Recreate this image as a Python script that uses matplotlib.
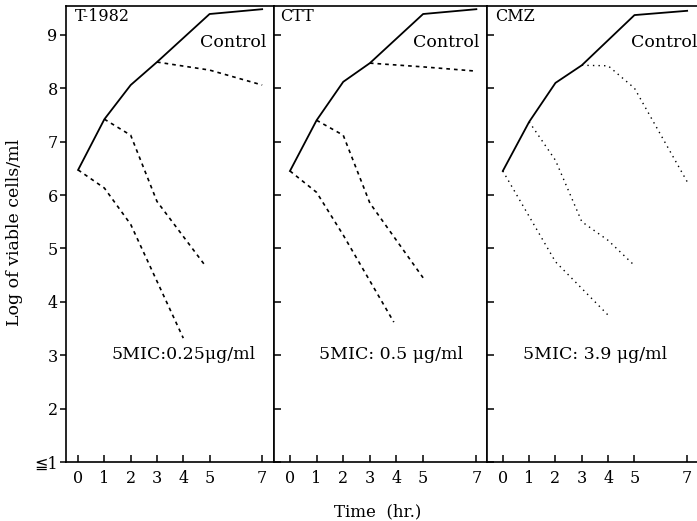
import matplotlib
matplotlib.use('Agg')
from matplotlib import pyplot as plt

plt.rcParams['font.family'] = ['DejaVu Serif', 'DejaVu Sans']

# ---- data ----
panels = ['T-1982', 'CTT', 'CMZ']
mic_labels = ['5MIC:0.25μg/ml', '5MIC: 0.5 μg/ml', '5MIC: 3.9 μg/ml']

ctrl_t = [0, 1, 2, 3, 5, 7]
ctrl_t1982 = [6.47, 7.42, 8.06, 8.49, 9.39, 9.48]
ctrl_ctt = [6.45, 7.40, 8.12, 8.47, 9.39, 9.48]
ctrl_cmz = [6.45, 7.37, 8.10, 8.43, 9.37, 9.45]

# drug added at 0 hr
low_t1982_t = [0, 1, 2, 4]
low_t1982 = [6.47, 6.13, 5.45, 3.32]
low_ctt_t = [0, 1, 2, 3.9]
low_ctt = [6.45, 6.05, 5.25, 3.62]
low_cmz_t = [0, 1, 2, 4]
low_cmz = [6.45, 5.60, 4.75, 3.75]

# drug added at 1 hr
mid_t1982_t = [1, 2, 3, 4.8]
mid_t1982 = [7.42, 7.12, 5.88, 4.70]
mid_ctt_t = [1, 2, 3, 5]
mid_ctt = [7.40, 7.12, 5.85, 4.45]
mid_cmz_t = [1, 2, 3, 4, 5]
mid_cmz = [7.37, 6.65, 5.50, 5.15, 4.68]

# drug added at 3 hr
high_t1982_t = [3, 5, 7]
high_t1982 = [8.49, 8.34, 8.06]
high_ctt_t = [3, 5, 7]
high_ctt = [8.47, 8.40, 8.32]
high_cmz_t = [3, 4, 5, 7]
high_cmz = [8.43, 8.42, 8.00, 6.25]

xticks = [0, 1, 2, 3, 4, 5, 7]
yticks = [1, 2, 3, 4, 5, 6, 7, 8, 9]
ylabels = ['≦1', '2', '3', '4', '5', '6', '7', '8', '9']

controls = [ctrl_t1982, ctrl_ctt, ctrl_cmz]
lows = [(low_t1982_t, low_t1982), (low_ctt_t, low_ctt), (low_cmz_t, low_cmz)]
mids = [(mid_t1982_t, mid_t1982), (mid_ctt_t, mid_ctt), (mid_cmz_t, mid_cmz)]
highs = [(high_t1982_t, high_t1982), (high_ctt_t, high_ctt), (high_cmz_t, high_cmz)]

fig = plt.figure(figsize=(6.97, 5.21), dpi=100)
W, H = 697, 521
bottom = 1 - 462 / H
height = (462 - 6) / H
boxes = [(66, 208), (274, 213), (487, 212)]
xlims = [(-0.46, 7.45), (-0.6, 7.4), (-0.6, 7.45)]
dash_styles = [(0, (2.2, 2.4)), (0, (2.2, 2.4)), (0, (1.0, 3.0))]
dash_lw = [1.2, 1.2, 1.0]
ctrl_x = [0.644, 0.653, 0.681]
mic_x = [0.221, 0.211, 0.171]
name_x = [0.043, 0.03, 0.04]

for i in range(3):
    left, w = boxes[i]
    ax = fig.add_axes([left / W, bottom, w / W, height])
    ax.plot(ctrl_t, controls[i], color='k', lw=1.3)
    for t, v in (lows[i], mids[i], highs[i]):
        ax.plot(t, v, color='k', lw=dash_lw[i], linestyle=dash_styles[i])
    ax.set_xlim(*xlims[i])
    ax.set_ylim(1, 9.54)
    ax.set_xticks(xticks)
    ax.set_yticks(yticks)
    ax.tick_params(axis='x', direction='in', length=5, width=1.1, pad=6,
                   labelsize=11.5)
    if i == 0:
        ax.set_yticklabels(ylabels)
        ax.tick_params(axis='y', direction='out', length=4, width=1.1, pad=2,
                       labelsize=11.5)
    else:
        ax.tick_params(axis='y', direction='in', length=5, width=1.1,
                       labelleft=False)
    for s in ax.spines.values():
        s.set_linewidth(1.2)
    if i == 2:
        ax.spines['right'].set_visible(False)
    ax.text(name_x[i], 0.978, panels[i], transform=ax.transAxes,
            fontsize=11.5, va='center', ha='left')
    ax.text(ctrl_x[i], 0.921, 'Control', transform=ax.transAxes,
            fontsize=12.5, va='center', ha='left')
    ax.text(mic_x[i], 0.235, mic_labels[i], transform=ax.transAxes,
            fontsize=12.5, va='center', ha='left')

fig.text(15 / W, 1 - 232 / H, 'Log of viable cells/ml', rotation=90,
         fontsize=12.5, va='center', ha='center')
fig.text(378 / W, 1 - 512 / H, 'Time  (hr.)', fontsize=12,
         va='center', ha='center')

plt.savefig('out.png', dpi=100)
